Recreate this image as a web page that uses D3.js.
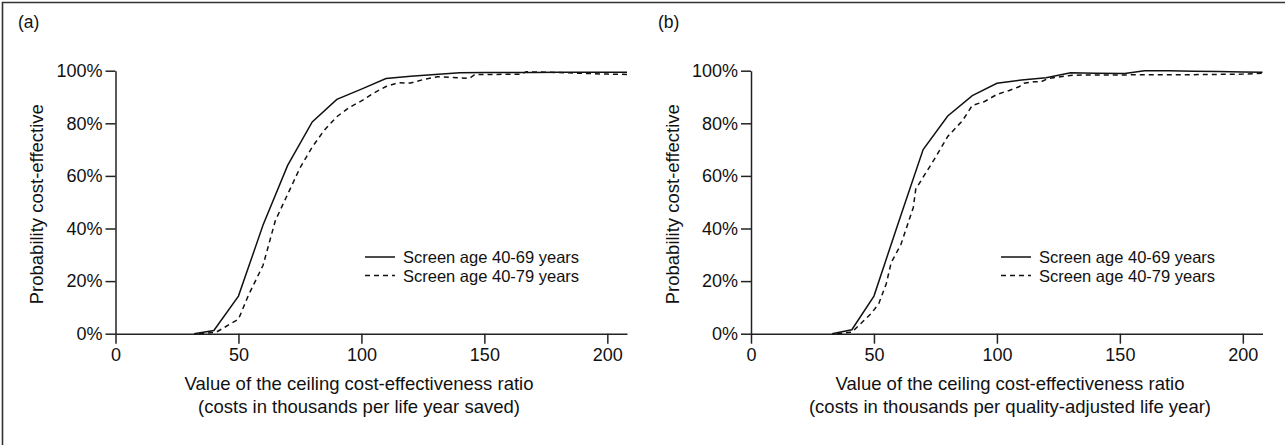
<!DOCTYPE html>
<html>
<head>
<meta charset="utf-8">
<script src="https://cdn.jsdelivr.net/npm/d3@7"></script>
<style>
  html, body { margin: 0; padding: 0; background: #fff; }
  svg { display: block; }
  text { font-family: "Liberation Sans", Arial, sans-serif; fill: #111; }
</style>
</head>
<body>
<svg id="chart" width="1285" height="445"></svg>
<script>
// ---- Data ----
const panelLabels = ["(a)", "(b)"];
const seriesNames = ["Screen age 40-69 years", "Screen age 40-79 years"];
const xTicks = [0, 50, 100, 150, 200];
const yTicks = [0, 20, 40, 60, 80, 100];
const yTickLabels = ["0%", "20%", "40%", "60%", "80%", "100%"];
const xTitlesA = ["Value of the ceiling cost-effectiveness ratio", "(costs in thousands per life year saved)"];
const xTitlesB = ["Value of the ceiling cost-effectiveness ratio", "(costs in thousands per quality-adjusted life year)"];
const yTitle = "Probability cost-effective";

// Panel (a): life years saved
const aSolidX = [32, 40, 50, 60, 70, 80, 90, 100, 110, 120, 130, 140, 150, 160, 170, 180, 190, 200, 208];
const aSolidY = [0, 1.2, 14.3, 41.3, 64, 80.5, 89.1, 93, 97, 97.9, 98.6, 99.2, 99.3, 99.3, 99.3, 99.4, 99.4, 99.4, 99.4];
const aDashX = [34, 41, 50, 54, 60, 65, 70, 75, 80, 85, 90, 95, 100, 105, 110, 115, 120, 125, 131, 144, 146, 165, 167, 180, 190, 200, 208];
const aDashY = [0, 0.6, 5.5, 14.5, 26, 43, 53, 63, 71, 77.5, 82.5, 86, 88.5, 91.5, 94, 95.4, 95.3, 96.6, 97.7, 97.1, 98.5, 98.7, 99.6, 99.3, 99, 98.7, 98.6];

// Panel (b): quality-adjusted life years
const bSolidX = [33, 41, 50, 60, 70, 80, 90, 100, 110, 120, 130, 140, 152, 160, 170, 180, 190, 200, 208];
const bSolidY = [0, 1.5, 14.3, 42.4, 70, 82.8, 90.5, 95.2, 96.5, 97.3, 99.2, 99.0, 98.9, 100, 100, 99.8, 99.7, 99.5, 99.4];
const bDashX = [35, 41, 49, 52, 55, 57, 61, 66, 67, 70, 75, 80, 82, 86, 90, 95, 100, 105, 109, 111, 115, 118, 121, 131, 150, 180, 200, 208];
const bDashY = [0, 0.6, 7.8, 11.5, 19, 27, 34, 48, 55, 59.5, 67, 75, 77, 81, 86.8, 88.3, 91, 92.5, 93.9, 95.2, 95.8, 95.8, 97.1, 98.3, 98.4, 98.5, 98.7, 99];

// ---- Drawing ----
const svg = d3.select("#chart");

// frame (top and left only)
svg.append("path")
  .attr("d", "M2.5,445 L2.5,2.5 L1285,2.5")
  .attr("fill", "none").attr("stroke", "#333").attr("stroke-width", 1.6);

const panels = [
  { label: panelLabels[0], labelX: 18, x0: 115.5, x1: 627, titleCX: 359, yTitleX: 43,
    titles: xTitlesA, legX: 365,
    series: [ {x: aSolidX, y: aSolidY, dash: null}, {x: aDashX, y: aDashY, dash: "5,4"} ] },
  { label: panelLabels[1], labelX: 658, x0: 751, x1: 1262.5, titleCX: 1010, yTitleX: 679,
    titles: xTitlesB, legX: 1001,
    series: [ {x: bSolidX, y: bSolidY, dash: null}, {x: bDashX, y: bDashY, dash: "5,4"} ] }
];

const yTop = 70.7, yBot = 333.7;

panels.forEach(p => {
  const x = d3.scaleLinear().domain([0, 208]).range([p.x0, p.x1]);
  const y = d3.scaleLinear().domain([0, 100]).range([yBot, yTop]);
  const g = svg.append("g");

  g.append("text").attr("x", p.labelX).attr("y", 28)
    .attr("font-size", 17.5).text(p.label);

  // x axis
  const xAxis = d3.axisBottom(x).tickValues(xTicks).tickSize(10).tickSizeOuter(0).tickPadding(5);
  const gx = g.append("g").attr("transform", `translate(0,${yBot})`).call(xAxis);
  // y axis
  const yAxis = d3.axisLeft(y).tickValues(yTicks).tickFormat((d, i) => yTickLabels[i])
    .tickSize(10).tickSizeOuter(0).tickPadding(3);
  const gy = g.append("g").attr("transform", `translate(${p.x0},0)`).call(yAxis);

  [gx, gy].forEach(ax => {
    ax.select(".domain").attr("stroke", "#222").attr("stroke-width", 1.5);
    ax.selectAll(".tick line").attr("stroke", "#222").attr("stroke-width", 1.5);
    ax.selectAll(".tick text").attr("font-size", 18).attr("fill", "#111")
      .attr("font-family", "'Liberation Sans', Arial, sans-serif");
  });

  // y title
  g.append("text")
    .attr("transform", `translate(${p.yTitleX},${(yTop + yBot) / 2 + 2}) rotate(-90)`)
    .attr("text-anchor", "middle").attr("font-size", 18.5).text(yTitle);

  // x titles
  p.titles.forEach((t, i) => {
    g.append("text").attr("x", p.titleCX).attr("y", 390 + i * 22.5)
      .attr("text-anchor", "middle").attr("font-size", 18.5).text(t);
  });

  // series
  const line = d3.line().x(d => x(d[0])).y(d => y(d[1]));
  p.series.forEach(s => {
    const pts = s.x.map((v, i) => [v, s.y[i]]);
    g.append("path").datum(pts).attr("d", line)
      .attr("fill", "none").attr("stroke", "#111").attr("stroke-width", 1.5)
      .attr("stroke-dasharray", s.dash);
  });

  // legend
  seriesNames.forEach((n, i) => {
    const ly = 257 + i * 18.5;
    g.append("line").attr("x1", p.legX).attr("x2", p.legX + 30)
      .attr("y1", ly).attr("y2", ly)
      .attr("stroke", "#111").attr("stroke-width", 1.5)
      .attr("stroke-dasharray", p.series[i].dash);
    g.append("text").attr("x", p.legX + 38).attr("y", ly + 6)
      .attr("font-size", 16.5).text(n);
  });
});
</script>
</body>
</html>
